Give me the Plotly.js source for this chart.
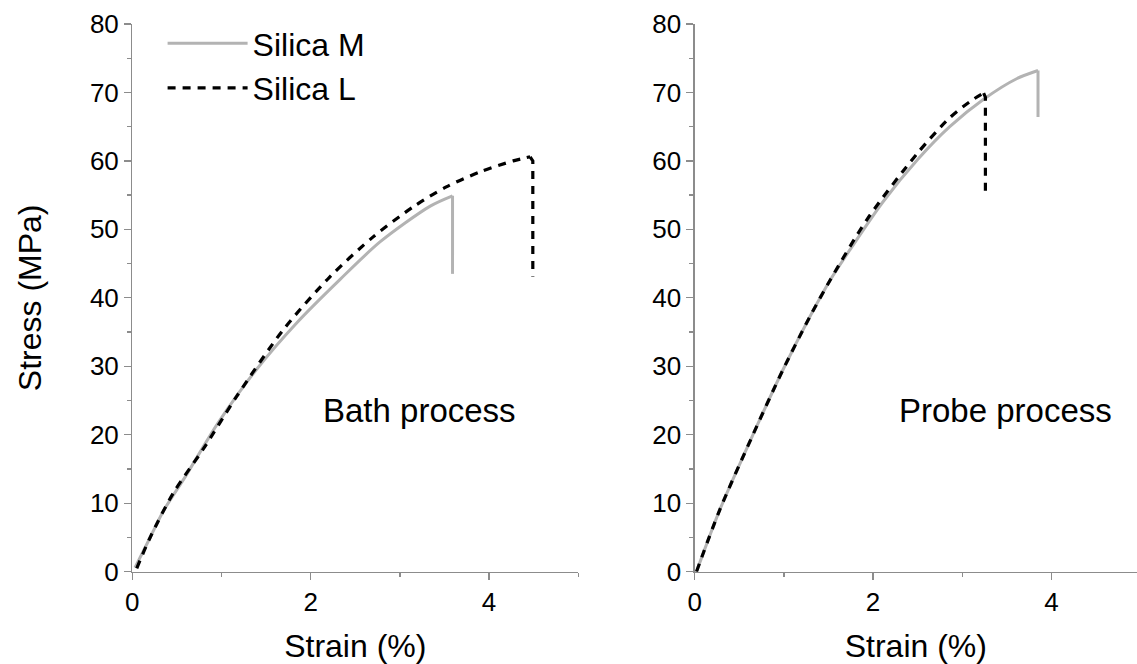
<!DOCTYPE html>
<html>
<head>
<meta charset="utf-8">
<script src="https://cdn.plot.ly/plotly-3.0.1.min.js"></script>
<style>html,body{margin:0;padding:0;background:#fff;}#chart{width:1137px;height:664px;}</style>
</head>
<body>
<div id="chart"></div>
<script>
// Bath process: loading curves, then fracture drop (stress before -> after)
const bathM_x = [0.03, 0.2, 0.35, 0.6, 0.96, 1.39, 1.84, 2.33, 2.78, 3.34, 3.59];
const bathM_y = [0.6, 5.0, 8.9, 14.0, 21.7, 29.5, 36.3, 42.7, 48.2, 53.4, 54.9];
const bathM_drop = [54.9, 43.5];
const bathL_x = [0.05, 0.2, 0.46, 0.8, 1.17, 1.69, 2.21, 2.70, 3.15, 3.52, 3.90, 4.27, 4.46];
const bathL_y = [0.5, 5.0, 11.5, 18.0, 25.6, 35.3, 43.0, 48.9, 53.3, 56.2, 58.4, 60.0, 60.6];
const bathL_drop = [60.0, 43.1];
const bathL_dropX = 4.49;
// Probe process
const probeM_x = [0.02, 0.28, 0.66, 0.99, 1.29, 1.52, 1.74, 2.11, 2.50, 2.86, 3.24, 3.61, 3.85];
const probeM_y = [0.0, 9.0, 20.2, 29.5, 37.2, 42.6, 47.0, 54.0, 60.2, 65.0, 69.0, 72.0, 73.2];
const probeM_drop = [73.2, 66.4];
const probeL_x = [0.02, 0.28, 0.66, 0.99, 1.29, 1.52, 1.93, 2.49, 2.86, 3.09, 3.24];
const probeL_y = [0.0, 9.0, 20.2, 29.5, 37.2, 42.6, 51.4, 61.0, 66.3, 68.7, 69.9];
const probeL_drop = [69.3, 55.0];
const probeL_dropX = 3.26;
const seriesNames = ["Silica M", "Silica L"];
const panelLabels = ["Bath process", "Probe process"];
const xTicks = [0, 2, 4];
const yTicks = [0, 10, 20, 30, 40, 50, 60, 70, 80];

const FONT = 'Liberation Sans, Arial, sans-serif';
const grayLine = {color: '#b3b3b3', width: 3, shape: 'spline', smoothing: 0.8};
const dashLine = {color: '#000000', width: 3.2, dash: '8px,7px', shape: 'spline', smoothing: 0.8};
const grayDrop = {color: '#b3b3b3', width: 3};
const dashDrop = {color: '#000000', width: 3.2, dash: '8px,7px'};
const last = a => a[a.length - 1];

const traces = [
  {x: bathM_x, y: bathM_y, name: seriesNames[0], mode: 'lines', line: grayLine, xaxis: 'x', yaxis: 'y', legendgroup: 'M'},
  {x: [last(bathM_x), last(bathM_x)], y: bathM_drop, mode: 'lines', line: grayDrop, xaxis: 'x', yaxis: 'y', showlegend: false},
  {x: bathL_x, y: bathL_y, name: seriesNames[1], mode: 'lines', line: dashLine, xaxis: 'x', yaxis: 'y', legendgroup: 'L'},
  {x: [last(bathL_x), bathL_dropX, bathL_dropX], y: [last(bathL_y)].concat(bathL_drop), mode: 'lines', line: dashDrop, xaxis: 'x', yaxis: 'y', showlegend: false},
  {x: probeM_x, y: probeM_y, name: seriesNames[0], mode: 'lines', line: grayLine, xaxis: 'x2', yaxis: 'y2', showlegend: false},
  {x: [last(probeM_x), last(probeM_x)], y: probeM_drop, mode: 'lines', line: grayDrop, xaxis: 'x2', yaxis: 'y2', showlegend: false},
  {x: probeL_x, y: probeL_y, name: seriesNames[1], mode: 'lines', line: dashLine, xaxis: 'x2', yaxis: 'y2', showlegend: false},
  {x: [last(probeL_x), probeL_dropX, probeL_dropX], y: [last(probeL_y)].concat(probeL_drop), mode: 'lines', line: dashDrop, xaxis: 'x2', yaxis: 'y2', showlegend: false}
];

const axisCommon = {
  showgrid: false, zeroline: false, showline: true, linecolor: '#8c8c8c', linewidth: 1.3,
  ticks: 'outside', ticklen: 7, tickwidth: 1.3, tickcolor: '#8c8c8c',
  tickfont: {family: FONT, size: 26, color: '#000'},
  mirror: false
};
const xAxis = (dom, rng, anchor) => Object.assign({}, axisCommon, {
  domain: dom, range: rng, anchor: anchor, tickvals: xTicks, ticktext: xTicks.map(String),
  minor: {tickvals: [1, 3, 5], ticklen: 4, tickcolor: '#8c8c8c', ticks: 'outside', tickwidth: 1.3},
  title: {text: 'Strain (%)', font: {family: FONT, size: 32, color: '#000'}, standoff: 20}
});
const yAxis = (anchor, withTitle) => Object.assign({}, axisCommon, {
  domain: [0.139, 0.9639], range: [0, 80], anchor: anchor, tickvals: yTicks, ticktext: yTicks.map(String),
  minor: {tickvals: [5, 15, 25, 35, 45, 55, 65, 75], ticklen: 4, tickcolor: '#8c8c8c', ticks: 'outside', tickwidth: 1.3},
  title: withTitle ? {text: 'Stress (MPa)', font: {family: FONT, size: 32, color: '#000'}, standoff: 38} : {text: ''}
});

const layout = {
  width: 1137, height: 664,
  margin: {l: 0, r: 0, t: 0, b: 0},
  paper_bgcolor: '#fff', plot_bgcolor: '#fff',
  showlegend: true,
  legend: {x: 0.143, y: 0.976, xanchor: 'left', yanchor: 'top', bgcolor: 'rgba(0,0,0,0)',
           font: {family: FONT, size: 32, color: '#000'},
           itemwidth: 80, tracegroupgap: 0},
  xaxis: xAxis([0.11636, 0.50862], [0, 5], 'y'),
  yaxis: yAxis('x', true),
  xaxis2: xAxis([0.61099, 1], [0, 4.96], 'y2'),
  yaxis2: yAxis('x2', false),
  annotations: [
    {xref: 'x', yref: 'y', x: 3.22, y: 23.6, text: panelLabels[0], showarrow: false,
     font: {family: FONT, size: 33, color: '#000'}},
    {xref: 'x2', yref: 'y2', x: 3.48, y: 23.6, text: panelLabels[1], showarrow: false,
     font: {family: FONT, size: 33, color: '#000'}}
  ]
};

Plotly.newPlot('chart', traces, layout, {displayModeBar: false, staticPlot: true});
</script>
</body>
</html>
